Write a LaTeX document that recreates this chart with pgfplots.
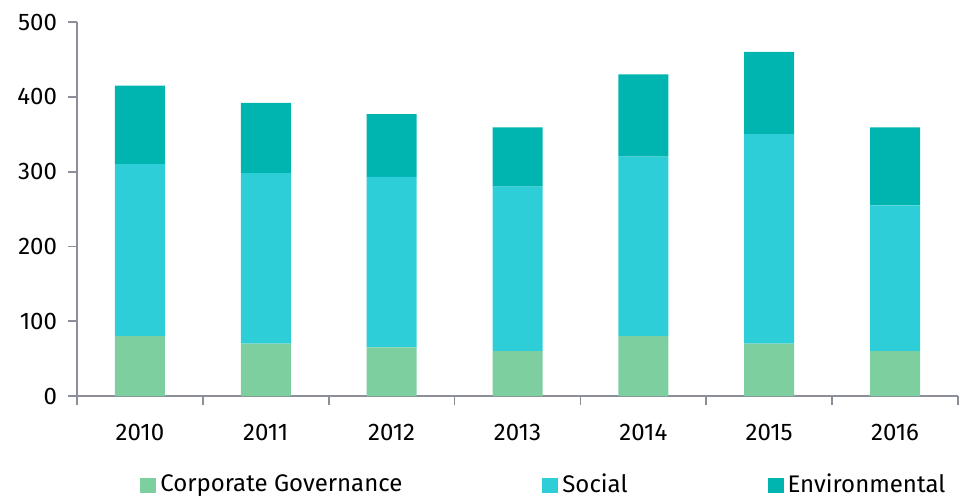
\documentclass[border=0pt]{standalone}
\usepackage{fontspec}
\setmainfont{Fira Sans}
\usepackage{pgfplots}
\pgfplotsset{compat=1.18}
\usetikzlibrary{calc}

\definecolor{cgov}{RGB}{125,207,160}
\definecolor{social}{RGB}{46,206,216}
\definecolor{envir}{RGB}{0,181,176}
\definecolor{axgray}{RGB}{140,143,153}

\pgfplotstableread{
x cg soc env
0 80 230 105
1 70 228 94
2 65 228 84
3 60 220 79
4 80 240 110
5 70 280 110
6 60 195 104
}\esgdata

\begin{document}
\begin{tikzpicture}
\begin{axis}[
    scale only axis,
    width=440.5pt, height=187pt,
    ybar stacked,
    bar width=25pt,
    xmin=-0.5, xmax=6.5,
    ymin=0, ymax=500,
    ytick={0,100,...,500},
    xtick={0,...,6},
    xticklabels={2010,2011,2012,2013,2014,2015,2016},
    minor xtick={-0.5,0.5,...,6.5},
    axis x line*=bottom,
    axis y line*=left,
    axis line style={axgray, line width=0.9pt, -},
    tick align=outside,
    major x tick style={draw=none},
    minor x tick style={axgray, line width=0.9pt},
    minor tick length=4.5pt,
    y tick style={axgray, line width=0.9pt},
    major tick length=4.5pt,
    tick label style={font=\fontsize{12}{14}\selectfont, text=black},
    /pgf/number format/assume math mode=true,
    yticklabel style={xshift=-2pt},
    xticklabel style={yshift=-6pt},
    legend columns=3,
    legend style={draw=none, at={(0.531,-0.238)}, anchor=center,
        font=\fontsize{12}{14}\selectfont,
        /tikz/every even column/.append style={column sep=68pt}},
    legend image code/.code={\fill[#1] (0pt,-3.75pt) rectangle (8pt,3.75pt);},
    clip=false,
]
\addplot[fill=cgov, draw=none] table[x=x, y=cg] {\esgdata};
\addplot[fill=social, draw=none] table[x=x, y=soc] {\esgdata};
\addplot[fill=envir, draw=none] table[x=x, y=env] {\esgdata};
\legend{Corporate Governance, Social, Environmental}
\coordinate (bl) at (rel axis cs:0,0);
\coordinate (tr) at (rel axis cs:1,1);
\end{axis}
\pgfresetboundingbox
\path[use as bounding box] ($(bl)+(-38.5pt,-53pt)$) rectangle ($(tr)+(5.5pt,11pt)$);
\end{tikzpicture}
\end{document}
